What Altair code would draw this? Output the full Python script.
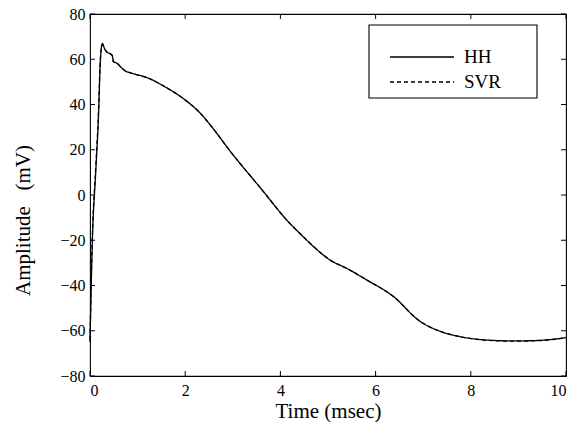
import altair as alt
import pandas as pd

# Time (msec) and amplitude (mV)
t_hh = [0, 0.05, 0.12, 0.175, 0.22, 0.26, 0.30, 0.35, 0.44, 0.47, 0.49, 0.57, 0.65,
        0.735, 0.85, 0.945, 1.22, 1.56, 2.0, 2.31, 2.6, 2.94, 3.57, 4.2, 4.41, 4.76,
        5.04, 5.4, 5.81, 6.37, 6.93, 7.35, 7.77, 8.16, 8.5, 8.9, 9.4, 9.87, 10]
v_hh = [-65, -20, 10, 33, 60, 67, 65, 63.3, 62.2, 61.5, 59, 58.2, 56.5,
        54.9, 54, 53.4, 51.7, 48, 42, 36.3, 29, 19.5, 3.4, -12.6, -17, -24,
        -28.7, -32.5, -37.5, -44.8, -55.8, -60.2, -62.6, -63.8, -64.3, -64.5, -64.3, -63.4, -63]

t_svr = [0, 0.05, 0.12, 0.175, 0.22, 0.26, 0.30, 0.35, 0.44, 0.47, 0.49, 0.57, 0.65,
         0.735, 0.85, 0.945, 1.22, 1.56, 2.0, 2.31, 2.6, 2.94, 3.57, 4.2, 4.41, 4.76,
         5.04, 5.4, 5.81, 6.37, 6.93, 7.35, 7.77, 8.16, 8.5, 8.9, 9.4, 9.87, 10]
v_svr = [-64, -18, 12, 35, 61, 66.5, 65, 63.3, 62.2, 61.5, 59, 58.2, 56.5,
         54.9, 54, 53.4, 51.7, 48, 42, 36.3, 29, 19.5, 3.4, -12.6, -17, -24,
         -28.7, -32.5, -37.5, -44.8, -55.8, -60.2, -62.6, -63.9, -64.4, -64.6, -64.4, -63.5, -63.1]

series_names = ["HH", "SVR"]
x_ticks = [0, 2, 4, 6, 8, 10]
y_ticks = [-80, -60, -40, -20, 0, 20, 40, 60, 80]

W, H = 476, 362
PAD_L, PAD_T = 82, 6
FONT = "Liberation Serif, Times New Roman, serif"
TL = 5  # inner tick length
ROW_H = 19

df = pd.concat([
    pd.DataFrame({"t": t_hh, "v": v_hh, "series": "HH", "order": range(len(t_hh))}),
    pd.DataFrame({"t": t_svr, "v": v_svr, "series": "SVR", "order": range(len(t_svr))}),
])
xt = pd.DataFrame({"x": x_ticks})
yt = pd.DataFrame({"y": y_ticks})

xs = alt.Scale(domain=[0, 10], nice=False)
ys = alt.Scale(domain=[-80, 80], nice=False)

# legend frame (page box 369..537 x 25..98)
frame = alt.Chart(pd.DataFrame({"k": [0]})).mark_rect(
    fill="white", stroke="black", strokeWidth=1.1
).encode(
    x=alt.value(369 - 8 - PAD_L), x2=alt.value(537 - 8 - PAD_L),
    y=alt.value(25 - 8 - PAD_T), y2=alt.value(98 - 8 - PAD_T),
)

lines = alt.Chart(df).mark_line(strokeWidth=1.3, color="black", interpolate="monotone").encode(
    x=alt.X("t:Q", scale=xs, title="Time (msec)",
            axis=alt.Axis(values=x_ticks, ticks=False, domain=False, grid=False,
                          labelFont=FONT, labelFontSize=16, labelPadding=6,
                          titleFont=FONT, titleFontSize=21, titleFontWeight="normal",
                          titleBaseline="alphabetic", titleY=41,
                          labelColor="black", titleColor="black")),
    y=alt.Y("v:Q", scale=ys, title="Amplitude\u00a0\u00a0\u00a0(mV)",
            axis=alt.Axis(values=y_ticks, ticks=False, domain=False, grid=False,
                          labelFont=FONT, labelFontSize=16, labelPadding=5,
                          titleFont=FONT, titleFontSize=21, titleFontWeight="normal",
                          titleBaseline="alphabetic", titleX=-61, titleY=220 - 8 - PAD_T,
                          labelColor="black", titleColor="black")),
    strokeDash=alt.StrokeDash(
        "series:N",
        scale=alt.Scale(domain=series_names, range=[[1, 0], [4, 3]]),
        legend=alt.Legend(
            title=None, orient="none",
            legendX=389 - 8 - PAD_L, legendY=57 - ROW_H / 2 - 8 - PAD_T,
            padding=0, symbolType="stroke", clipHeight=ROW_H,
            symbolSize=4096, symbolStrokeWidth=1.3, symbolStrokeColor="black",
            labelFont=FONT, labelFontSize=19, labelColor="black",
            labelOffset=9, rowPadding=5,
        ),
    ),
    order="order:Q",
)

bottom = alt.Chart(xt).mark_rule(color="black").encode(
    x=alt.X("x:Q", scale=xs), y=alt.value(H), y2=alt.value(H - TL))
top = alt.Chart(xt).mark_rule(color="black").encode(
    x=alt.X("x:Q", scale=xs), y=alt.value(0), y2=alt.value(TL))
left = alt.Chart(yt).mark_rule(color="black").encode(
    y=alt.Y("y:Q", scale=ys), x=alt.value(0), x2=alt.value(TL))
right = alt.Chart(yt).mark_rule(color="black").encode(
    y=alt.Y("y:Q", scale=ys), x=alt.value(W), x2=alt.value(W - TL))

chart = alt.layer(frame, lines, bottom, top, left, right).properties(
    width=W, height=H,
    autosize=alt.AutoSizeParams(type="none"),
    padding={"left": PAD_L, "top": PAD_T, "right": 10, "bottom": 430 - 16 - PAD_T - H},
    background="white",
).configure_view(stroke="black", strokeWidth=1.1)

chart.save("out.html", embed_options={"renderer": "svg", "actions": False})
